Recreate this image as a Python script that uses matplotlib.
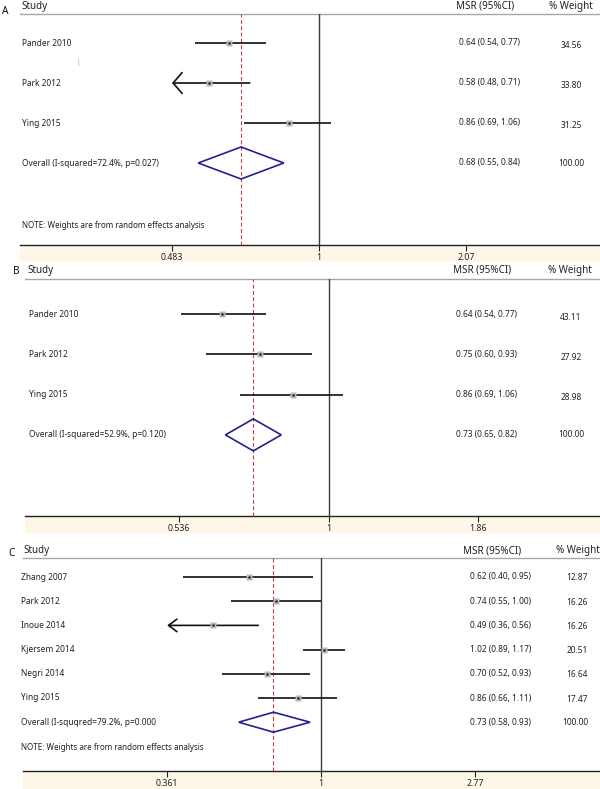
import numpy as np
import matplotlib
matplotlib.use("Agg")
import matplotlib.pyplot as plt
from matplotlib.patches import Polygon, Rectangle
from matplotlib.transforms import blended_transform_factory
from matplotlib.ticker import NullLocator

plt.rcParams['font.family'] = ['Noto Sans', 'DejaVu Sans']

# ---------------- data ----------------
# Panel A
a_studies = ["Pander 2010", "Park 2012", "Ying 2015"]
a_est = [0.64, 0.58, 0.86]
a_lo = [0.54, 0.48, 0.69]
a_hi = [0.77, 0.71, 1.06]
a_msr = ["0.64 (0.54, 0.77)", "0.58 (0.48, 0.71)", "0.86 (0.69, 1.06)"]
a_weight = ["34.56", "33.80", "31.25"]
a_overall = [0.68, 0.55, 0.84]
a_overall_label = "Overall (I-squared=72.4%, p=0.027)"
a_overall_msr = "0.68 (0.55, 0.84)"
a_ticks = [0.483, 1, 2.07]
a_ticklabels = ["0.483", "1", "2.07"]

# Panel B
b_studies = ["Pander 2010", "Park 2012", "Ying 2015"]
b_est = [0.64, 0.75, 0.86]
b_lo = [0.54, 0.60, 0.69]
b_hi = [0.77, 0.93, 1.06]
b_msr = ["0.64 (0.54, 0.77)", "0.75 (0.60, 0.93)", "0.86 (0.69, 1.06)"]
b_weight = ["43.11", "27.92", "28.98"]
b_overall = [0.73, 0.65, 0.82]
b_overall_label = "Overall (I-squared=52.9%, p=0.120)"
b_overall_msr = "0.73 (0.65, 0.82)"
b_ticks = [0.536, 1, 1.86]
b_ticklabels = ["0.536", "1", "1.86"]

# Panel C
c_studies = ["Zhang 2007", "Park 2012", "Inoue 2014", "Kjersem 2014", "Negri 2014", "Ying 2015"]
c_est = [0.62, 0.74, 0.49, 1.02, 0.70, 0.86]
c_lo = [0.40, 0.55, 0.36, 0.89, 0.52, 0.66]
c_hi = [0.95, 1.00, 0.66, 1.17, 0.93, 1.11]
c_msr = ["0.62 (0.40, 0.95)", "0.74 (0.55, 1.00)", "0.49 (0.36, 0.56)",
         "1.02 (0.89, 1.17)", "0.70 (0.52, 0.93)", "0.86 (0.66, 1.11)"]
c_weight = ["12.87", "16.26", "16.26", "20.51", "16.64", "17.47"]
c_overall = [0.73, 0.58, 0.93]
c_overall_label = "Overall (I-squqred=79.2%, p=0.000"
c_overall_msr = "0.73 (0.58, 0.93)"
c_ticks = [0.361, 1, 2.77]
c_ticklabels = ["0.361", "1", "2.77"]

note_text = "NOTE: Weights are from random effects analysis"

# ---------------- drawing ----------------
W, H = 600, 789
fig = plt.figure(figsize=(W / 100, H / 100), dpi=100)

FS = 6.0
HFS = 7.1


def draw_panel(letter, studies, est, lo, hi, msr, weight, overall, overall_label,
               overall_msr, ticks, ticklabels, L):
    top, bottom = L['top'], L['bottom']
    ax = fig.add_axes([0, 1 - bottom / H, 1, (bottom - top) / H])
    ax.patch.set_visible(False)
    ax.set_xscale('log')
    ax.set_xlim(np.exp((0 - L['x_one']) / L['scale']), np.exp((W - L['x_one']) / L['scale']))
    ax.set_ylim(bottom, top)
    for s in ax.spines.values():
        s.set_visible(False)
    ax.set_yticks([])
    ax.set_xticks(ticks)
    ax.set_xticklabels(ticklabels)
    ax.xaxis.set_minor_locator(NullLocator())
    ax.tick_params(axis='x', direction='out', length=4, width=0.8, pad=1.5,
                   labelsize=6.3, color='#222222', labelcolor='#222222')

    x0f = L['line_x0'] / W
    # header line and axis line
    ax.axhline(top, xmin=x0f, xmax=1, color='#a8a8a8', lw=1.0, clip_on=False)
    ax.axhline(bottom, xmin=x0f, xmax=1, color='#222222', lw=1.0, clip_on=False)
    # beige band
    fig.add_artist(Rectangle((x0f, 1 - L['band_bottom'] / H), 1 - x0f,
                             (L['band_bottom'] - bottom) / H, transform=fig.transFigure,
                             facecolor='#fdf7e8', edgecolor='none', zorder=-5))

    # null line and overall dashed line
    ax.axvline(1, color='#3a3a3a', lw=1.0)
    ax.axvline(overall[0], color='#c84040', lw=0.8, dashes=(3.5, 2.2))

    tr = blended_transform_factory(fig.transFigure, ax.transData)
    n = len(studies)
    rows = [L['first'] + i * L['step'] for i in range(n + 1)]
    clip = ticks[0]
    for i in range(n):
        y = rows[i]
        if lo[i] < clip:
            style = '->,head_length=%.2f,head_width=%.2f' % (L['ah_len'], L['ah_wid'])
            ax.annotate('', xy=(clip, y), xytext=(hi[i], y),
                        arrowprops=dict(arrowstyle=style,
                                        lw=1.2, color='#111111', shrinkA=0, shrinkB=0,
                                        mutation_scale=10))
        else:
            ax.plot([lo[i], hi[i]], [y, y], color='#111111', lw=1.2, solid_capstyle='butt')
        ax.plot(est[i], y, marker='s', ms=4.2, color='#b8b8b8', mec='none', zorder=3)
        ax.plot(est[i], y, marker='s', ms=2.0, color='#000000', mec='none', zorder=4)
        ax.text(L['name_x'] / W, y, studies[i], transform=tr, fontsize=FS,
                va='center', ha='left', color='#222222')
        ax.text(L['msr_x'] / W, y, msr[i], transform=tr, fontsize=FS,
                va='center', ha='left', color='#222222')
        ax.text(L['w_x'] / W, y + L['w_dy'], weight[i], transform=tr, fontsize=FS,
                va='center', ha=L['w_ha'], color='#222222')

    # overall diamond
    yo = rows[n]
    h = L['dh']
    dia = Polygon([(overall[1], yo), (overall[0], yo - h), (overall[2], yo),
                   (overall[0], yo + h)], closed=True, fill=False,
                  edgecolor='#22228a', lw=1.2, zorder=5)
    ax.add_patch(dia)
    ax.text(L['name_x'] / W, yo, overall_label, transform=tr, fontsize=FS,
            va='center', ha='left', color='#222222')
    ax.text(L['msr_x'] / W, yo, overall_msr, transform=tr, fontsize=FS,
            va='center', ha='left', color='#222222')
    ax.text(L['w_x'] / W, yo, "100.00", transform=tr, fontsize=FS,
            va='center', ha=L['w_ha'], color='#222222')

    if L.get('note_y') is not None:
        ax.text(L['name_x'] / W, L['note_y'], note_text, transform=tr, fontsize=FS - 0.2,
                va='center', ha='left', color='#222222')

    # headers
    hy = L['head_y']
    fig.text(L['letter_x'] / W, 1 - L['letter_y'] / H, letter, fontsize=7.3, fontweight='bold',
             va='center', ha='left', color='#111111')
    fig.text(L['study_x'] / W, 1 - hy / H, "Study", fontsize=HFS, va='center', ha='left',
             color='#222222')
    fig.text(L['msrh_x'] / W, 1 - hy / H, "MSR (95%CI)", fontsize=HFS, va='center',
             ha='left', color='#222222')
    fig.text(L['wh_x'] / W, 1 - hy / H, "% Weight", fontsize=HFS, va='center',
             ha='left', color='#222222')
    return ax


LA = dict(top=14, bottom=245, band_bottom=262, x_one=319, scale=202, line_x0=20,
          first=43, step=40, note_y=226, name_x=22, msr_x=459, w_x=571, w_ha='center',
          w_dy=3, head_y=6, letter_x=2, letter_y=11, study_x=21, msrh_x=456, wh_x=549, dh=16,
          ah_len=0.65, ah_wid=0.75)
LB = dict(top=279, bottom=516, band_bottom=533, x_one=329, scale=240.5, line_x0=25,
          first=314, step=40.3, note_y=None, name_x=29, msr_x=456, w_x=571, w_ha='center',
          w_dy=3, head_y=270, letter_x=13, letter_y=272, study_x=27, msrh_x=453, wh_x=548, dh=16,
          ah_len=0.65, ah_wid=0.75)
LC = dict(top=558, bottom=771, band_bottom=789, x_one=321, scale=151, line_x0=23,
          first=577, step=24.2, note_y=748, name_x=21, msr_x=470, w_x=588, w_ha='right',
          w_dy=1, head_y=551, letter_x=8, letter_y=553, study_x=23, msrh_x=463, wh_x=556, dh=10,
          ah_len=0.6, ah_wid=0.45)

draw_panel("A", a_studies, a_est, a_lo, a_hi, a_msr, a_weight, a_overall, a_overall_label,
           a_overall_msr, a_ticks, a_ticklabels, LA)
draw_panel("B", b_studies, b_est, b_lo, b_hi, b_msr, b_weight, b_overall, b_overall_label,
           b_overall_msr, b_ticks, b_ticklabels, LB)
draw_panel("C", c_studies, c_est, c_lo, c_hi, c_msr, c_weight, c_overall, c_overall_label,
           c_overall_msr, c_ticks, c_ticklabels, LC)

# small orange mark present in the original panel A
fig.text(78 / W, 1 - 63 / H, "|", fontsize=5, color='#d08a30', ha='center', va='center')

fig.savefig("out.png", dpi=100)
